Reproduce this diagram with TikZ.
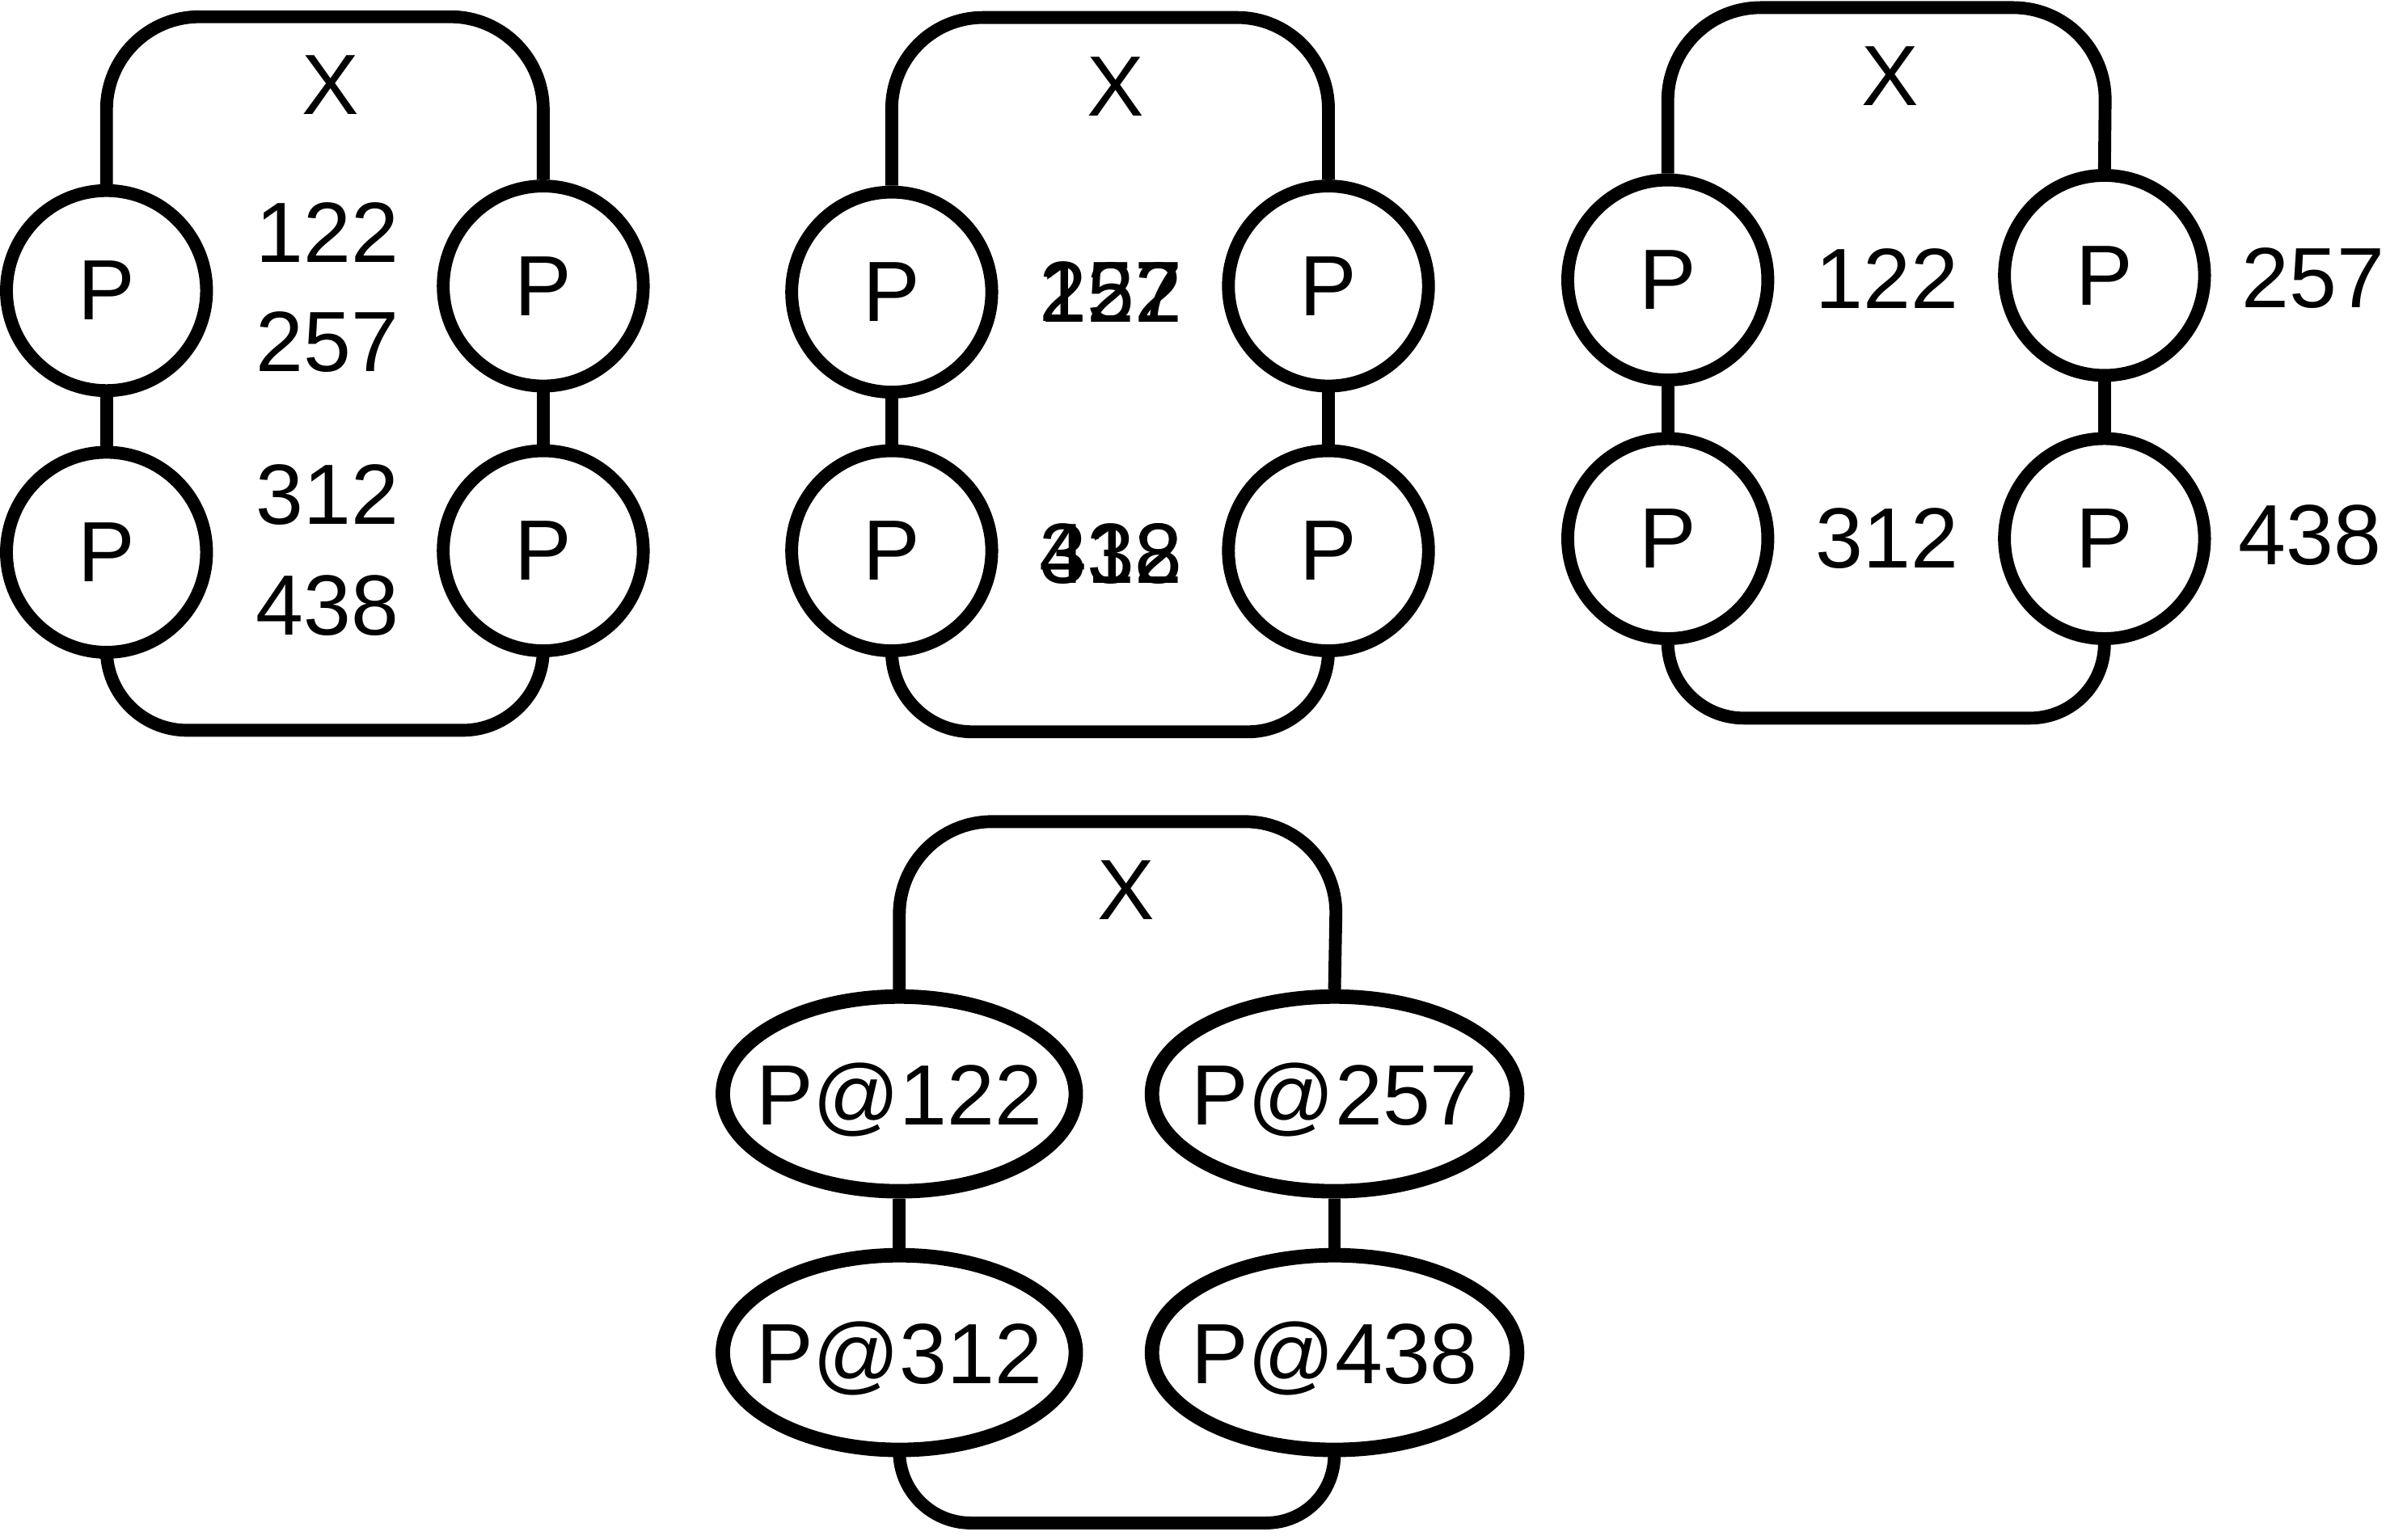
\documentclass[tikz,border=0pt]{standalone}
\usepackage{fontspec}
\setmainfont{Liberation Sans}
\usetikzlibrary{shapes.geometric}
\newcommand{\bigtxt}{\fontsize{32}{36}\selectfont}
\tikzset{
  pc/.style={ellipse,draw,line width=4.8pt,inner sep=0pt,font=\bigtxt,minimum width=2.63cm,minimum height=2.63cm},
  pe/.style={ellipse,draw,line width=5.4pt,inner sep=0pt,minimum height=2.56cm},
  fr/.style={line width=4.8pt},
  lb/.style={inner sep=0pt,font=\bigtxt}
}
\begin{document}
\begin{tikzpicture}[x=0.02cm,y=-0.02cm]
\useasboundingbox (0,0) rectangle (1568,1012);
% first panel
\node[pc] (p1a) at (70,191) {P};
\node[pc] (p1b) at (70,363) {P};
\node[pc] (p1c) at (357,188) {P};
\node[pc] (p1d) at (357,362) {P};
\draw[fr] (p1a) -- (p1b);
\draw[fr] (p1c) -- (p1d);
\draw[fr,rounded corners=1.22cm] (p1a.north) -- (70,11) -- (357,11) -- (p1c.north);
\draw[fr,rounded corners=1.06cm] (p1b.south) -- (70,480) -- (357,480) -- (p1d.south);
\node[lb] (x1) at (217,56) {X};
\node[lb] (n1a) at (215,153) {122};
\node[lb] (n1b) at (215,225) {257};
\node[lb] (n1c) at (215,325) {312};
\node[lb] (n1d) at (215,398) {438};
% second panel
\node[pc] (p2a) at (586,192) {P};
\node[pc] (p2b) at (586,362) {P};
\node[pc] (p2c) at (873,188) {P};
\node[pc] (p2d) at (873,362) {P};
\draw[fr] (p2a) -- (p2b);
\draw[fr] (p2c) -- (p2d);
\draw[fr,rounded corners=1.2cm] (p2a.north) -- (586,11.5) -- (873,11.5) -- (p2c.north);
\draw[fr,rounded corners=1.06cm] (p2b.south) -- (586,481) -- (873,481) -- (p2d.south);
\node[lb] (x2) at (733,57) {X};
\node[lb] (n2a) at (730,192) {122};
\node[lb] (n2b) at (730,192) {257};
\node[lb] (n2c) at (730,364) {312};
\node[lb] (n2d) at (730,364) {438};
% third panel
\node[pc] (p3a) at (1096,184) {P};
\node[pc] (p3b) at (1096,354) {P};
\node[pc] (p3c) at (1383,181) {P};
\node[pc] (p3d) at (1383,354) {P};
\draw[fr] (p3a) -- (p3b);
\draw[fr] (p3c) -- (p3d);
\draw[fr,rounded corners=1.22cm] (p3a.north) -- (1096,5) -- (1384,5) -- (p3c.north);
\draw[fr,rounded corners=1.0cm] (p3b.south) -- (1096,472) -- (1384,472) -- (p3d.south);
\node[lb] (x3) at (1242,50) {X};
\node[lb] (n3a) at (1240,183) {122};
\node[lb] (n3b) at (1520,183) {257};
\node[lb] (n3c) at (1240,354) {312};
\node[lb] (n3d) at (1518,352) {438};
% fourth panel
\node[pe,minimum width=4.64cm,label={[lb,text depth=0pt]center:P@122}] (e1) at (591,719) {};
\node[pe,minimum width=4.8cm,label={[lb,text depth=0pt]center:P@257}] (e2) at (877,719) {};
\node[pe,minimum width=4.64cm,label={[lb,text depth=0pt]center:P@312}] (e3) at (591,889) {};
\node[pe,minimum width=4.8cm,label={[lb,text depth=0pt]center:P@438}] (e4) at (877,889) {};
\draw[fr] (e1) -- (e3);
\draw[fr] (e2) -- (e4);
\draw[fr,rounded corners=1.22cm] (e1.north) -- (591,540) -- (879,540) -- (e2.north);
\draw[fr,rounded corners=0.94cm] (e3.south) -- (591,1001) -- (879,1001) -- (e4.south);
\node[lb] (x4) at (740,585) {X};
\end{tikzpicture}
\end{document}
